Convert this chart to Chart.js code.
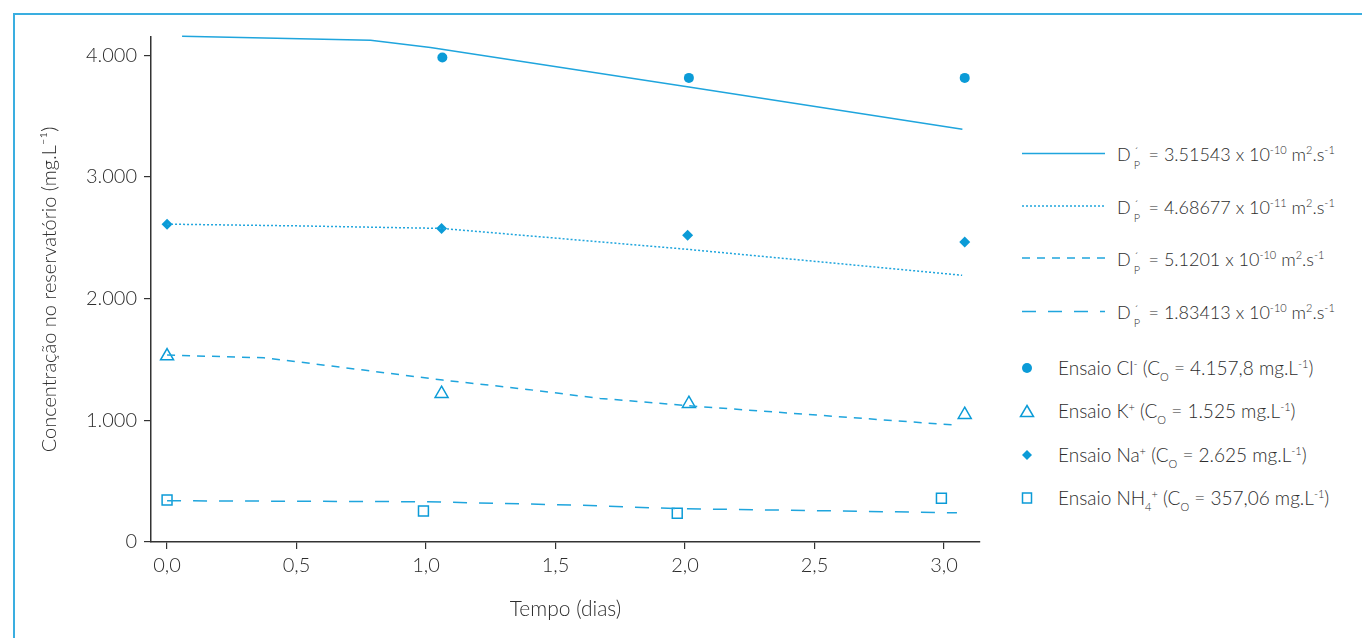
<!DOCTYPE html>
<html><head><meta charset="utf-8">
<script src="https://cdn.jsdelivr.net/npm/chart.js@4"></script>
<style>
html,body{margin:0;padding:0;background:#fff;}
body{width:1362px;height:638px;position:relative;overflow:hidden;font-family:Lato,'Open Sans',sans-serif;color:#2d2d2d;font-weight:300}
#frame{position:absolute;left:13px;top:13px;width:1400px;height:700px;border-left:2px solid #3aaee0;border-top:2px solid #3aaee0;}
#wrap{position:absolute;left:0;top:0;width:1000px;height:638px;}
.lg{position:absolute;font-size:18px;white-space:nowrap;line-height:20px;}
.lg.e{font-size:19px}
.lg sup{font-size:11px;vertical-align:7px;line-height:0}
.lg sub{font-size:11px;vertical-align:-6px;line-height:0}
.stk{display:inline-block;position:relative;width:13px;height:10px}
.stk .a{position:absolute;left:3px;top:-9px;font-size:12px}
.stk .b{position:absolute;left:3px;top:4px;font-size:11px}
.mk{position:absolute;}
</style></head>
<body>
<div id="frame"></div>
<div id="wrap"><canvas id="c" width="1000" height="638"></canvas></div>

<svg class="mk" style="left:1015px;top:140px" width="95" height="185">
  <line x1="7" y1="13.5" x2="90" y2="13.5" stroke="#1fa5dd" stroke-width="1.5"/>
  <line x1="7" y1="66" x2="90" y2="66" stroke="#1fa5dd" stroke-width="1.5" stroke-dasharray="2,2"/>
  <line x1="7" y1="118" x2="90" y2="118" stroke="#1fa5dd" stroke-width="1.5" stroke-dasharray="8,7"/>
  <line x1="7" y1="171.5" x2="90" y2="171.5" stroke="#1fa5dd" stroke-width="1.5" stroke-dasharray="14,12"/>
</svg>
<div class="lg" style="left:1117px;top:144px">D<span class="stk"><span class="a">´</span><span class="b">P</span></span> = 3.51543 x 10<sup>-10</sup> m<sup>2</sup>.s<sup>-1</sup></div>
<div class="lg" style="left:1117px;top:197px">D<span class="stk"><span class="a">´</span><span class="b">P</span></span> = 4.68677 x 10<sup>-11</sup> m<sup>2</sup>.s<sup>-1</sup></div>
<div class="lg" style="left:1117px;top:249px">D<span class="stk"><span class="a">´</span><span class="b">P</span></span> = 5.1201 x 10<sup>-10</sup> m<sup>2</sup>.s<sup>-1</sup></div>
<div class="lg" style="left:1117px;top:302px">D<span class="stk"><span class="a">´</span><span class="b">P</span></span> = 1.83413 x 10<sup>-10</sup> m<sup>2</sup>.s<sup>-1</sup></div>

<svg class="mk" style="left:1015px;top:355px" width="30" height="160">
  <circle cx="12" cy="13" r="5" fill="#0b9bd7"/>
  <polygon points="12,50.5 18.5,61.5 5.5,61.5" fill="none" stroke="#0b9bd7" stroke-width="1.5"/>
  <polygon points="12,95 17,100 12,105 7,100" fill="#0b9bd7"/>
  <rect x="7.5" y="138" width="9" height="10" fill="none" stroke="#0b9bd7" stroke-width="1.5"/>
</svg>
<div class="lg e" style="left:1058px;top:358px">Ensaio Cl<sup>-</sup> (C<sub>O</sub> = 4.157,8 mg.L<sup>-1</sup>)</div>
<div class="lg e" style="left:1058px;top:401px">Ensaio K<sup>+</sup> (C<sub>O</sub> = 1.525 mg.L<sup>-1</sup>)</div>
<div class="lg e" style="left:1058px;top:445px">Ensaio Na<sup>+</sup> (C<sub>O</sub> = 2.625 mg.L<sup>-1</sup>)</div>
<div class="lg e" style="left:1058px;top:488px">Ensaio NH<sub>4</sub><sup>+</sup> (C<sub>O</sub> = 357,06 mg.L<sup>-1</sup>)</div>

<script>
// Tick labels
const xTickValues = [0, 0.5, 1, 1.5, 2, 2.5, 3];
const yTickValues = [0, 1000, 2000, 3000, 4000];

// Measured points (tempo em dias, concentração mg/L)
const clTime = [1.063, 2.015, 3.08];
const clConc = [3981, 3814, 3814];
const kTime = [0.0, 1.06, 2.015, 3.08];
const kConc = [1528, 1219, 1137, 1046];
const naTime = [0.0, 1.06, 2.01, 3.08];
const naConc = [2612, 2577, 2521, 2466];
const nhTime = [0.0, 0.99, 1.97, 2.99];
const nhConc = [345, 255, 236, 359];

// Model curves
const clFitTime = [0.058, 0.786, 1.017, 2.015, 3.071];
const clFitConc = [4156, 4123, 4063, 3740, 3392];
const naFitTime = [0.0, 0.5, 1.06, 2.01, 3.07];
const naFitConc = [2612, 2598, 2577, 2405, 2192];
const kFitTime = [0.0, 0.374, 0.505, 0.759, 1.064, 1.391, 1.672, 2.015, 3.05];
const kFitConc = [1536, 1514, 1481, 1413, 1331, 1254, 1180, 1119, 960];
const nhFitTime = [0.0, 0.99, 1.57, 1.97, 2.53, 3.05];
const nhFitConc = [339, 331, 304, 274, 257, 240];

const pts = (xs, ys) => xs.map((x, i) => ({x: x, y: ys[i]}));
const lineCol = '#1fa5dd';
const ptCol = '#0b9bd7';
const axisCol = '#333';
const fontFam = "Lato, 'Open Sans', sans-serif";

function lineDs(xs, ys, dash) {
  return {data: pts(xs, ys), showLine: true, borderColor: lineCol, borderWidth: 1.5,
    borderDash: dash, pointRadius: 0, tension: 0, fill: false};
}

new Chart(document.getElementById('c'), {
  type: 'scatter',
  data: {
    datasets: [
      lineDs(clFitTime, clFitConc, []),
      lineDs(naFitTime, naFitConc, [2, 2]),
      lineDs(kFitTime, kFitConc, [8, 7]),
      lineDs(nhFitTime, nhFitConc, [14, 12]),
      {data: pts(clTime, clConc), pointStyle: 'circle', pointRadius: 5, backgroundColor: ptCol, borderColor: ptCol, borderWidth: 0},
      {data: pts(kTime, kConc), pointStyle: 'triangle', pointRadius: 7.5, backgroundColor: 'rgba(0,0,0,0)', borderColor: ptCol, borderWidth: 1.5},
      {data: pts(naTime, naConc), pointStyle: 'rectRot', pointRadius: 5.5, backgroundColor: ptCol, borderColor: ptCol, borderWidth: 0},
      {data: pts(nhTime, nhConc), pointStyle: 'rect', pointRadius: 7, backgroundColor: 'rgba(0,0,0,0)', borderColor: ptCol, borderWidth: 1.5}
    ]
  },
  options: {
    responsive: false,
    animation: false,
    clip: false,
    layout: {padding: {top: 37, right: 20, left: 0, bottom: 0}},
    plugins: {legend: {display: false}, tooltip: {enabled: false}},
    scales: {
      x: {
        type: 'linear', min: -0.062, max: 3.139,
        afterBuildTicks: s => { s.ticks = xTickValues.map(v => ({value: v})); },
        afterFit: s => { s.height = 96; },
        border: {display: true, color: axisCol, width: 1.5},
        grid: {display: true, drawOnChartArea: false, drawTicks: true, tickLength: 7, color: axisCol, lineWidth: 1.2},
        ticks: {padding: 5, color: '#2d2d2d', font: {family: fontFam, size: 20, weight: 300},
          callback: v => v.toFixed(1).replace('.', ','), maxRotation: 0, autoSkip: false},
        title: {display: true, text: 'Tempo (dias)', color: '#2d2d2d', font: {family: fontFam, size: 21, weight: 300}, padding: {top: 0, bottom: 16}}
      },
      y: {
        type: 'linear', min: 0, max: 4150,
        afterBuildTicks: s => { s.ticks = yTickValues.map(v => ({value: v})); },
        afterFit: s => { s.width = 151; },
        border: {display: true, color: axisCol, width: 1.5},
        grid: {display: true, drawOnChartArea: false, drawTicks: true, tickLength: 7, color: axisCol, lineWidth: 1.2},
        ticks: {padding: 7, color: '#2d2d2d', font: {family: fontFam, size: 20, weight: 300},
          callback: v => v === 0 ? '0' : String(v).replace(/\B(?=(\d{3})+(?!\d))/g, '.')},
        title: {display: true, text: 'Concentração no reservatório (mg.L⁻¹)', color: '#2d2d2d', font: {family: fontFam, size: 20, weight: 300}, padding: {top: 38, bottom: 0}}
      }
    }
  }
});
</script>
</body></html>
